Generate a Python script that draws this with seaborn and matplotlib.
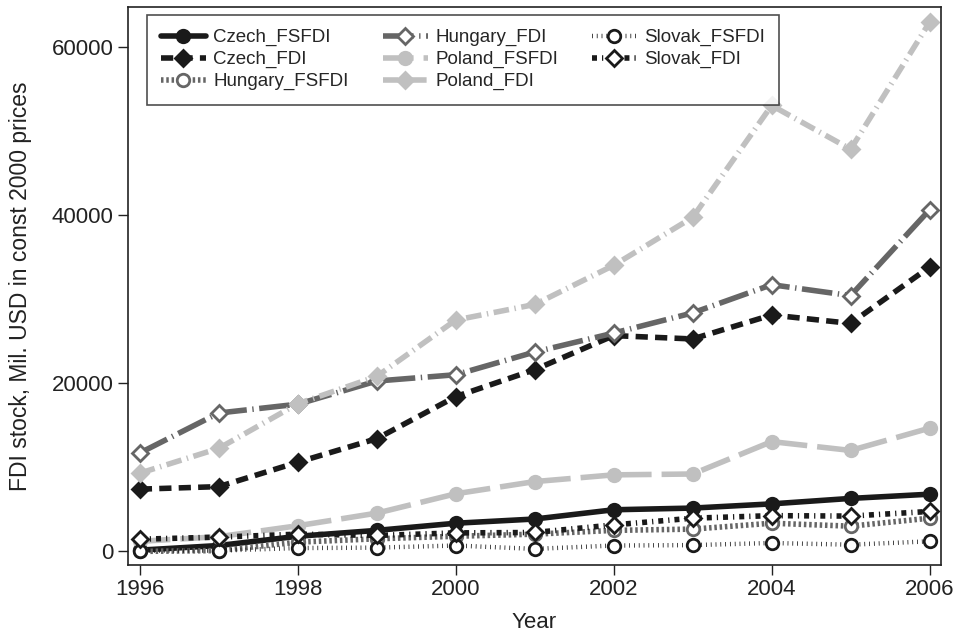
import pandas as pd
import numpy as np
import seaborn as sns
import matplotlib.pyplot as plt

years = [1996, 1997, 1998, 1999, 2000, 2001, 2002, 2003, 2004, 2005, 2006]

czech_fsfdi = [150, 700, 1800, 2500, 3350, 3850, 4950, 5150, 5650, 6300, 6800]
czech_fdi = [7400, 7700, 10600, 13400, 18400, 21600, 25650, 25250, 28100, 27100, 33800]
hungary_fsfdi = [0, 100, 1100, 1500, 1800, 2050, 2500, 2650, 3350, 3000, 3950]
hungary_fdi = [11700, 16450, 17500, 20250, 21000, 23700, 25950, 28350, 31700, 30400, 40600]
poland_fsfdi = [1200, 1750, 3050, 4550, 6850, 8300, 9100, 9200, 13050, 12000, 14650]
poland_fdi = [9300, 12250, 17550, 20800, 27500, 29350, 34000, 39700, 53000, 47800, 62900]
slovak_fsfdi = [100, 100, 400, 450, 700, 300, 700, 750, 1000, 800, 1200]
slovak_fdi = [1450, 1700, 2050, 1900, 2200, 2250, 3150, 3950, 4250, 4200, 4750]

series = ["Czech_FSFDI", "Czech_FDI", "Hungary_FSFDI", "Hungary_FDI",
          "Poland_FSFDI", "Poland_FDI", "Slovak_FSFDI", "Slovak_FDI"]
values = [czech_fsfdi, czech_fdi, hungary_fsfdi, hungary_fdi,
          poland_fsfdi, poland_fdi, slovak_fsfdi, slovak_fdi]

df = pd.DataFrame({
    "Year": years * len(series),
    "value": sum(values, []),
    "series": np.repeat(series, len(years)),
})

black = "#1a1a1a"
dgrey = "#666666"
lgrey = "#c0c0c0"

# color, dash pattern, linewidth, marker, face color
styles = {
    "Czech_FSFDI": (black, "-", 4.0, "o", black),
    "Czech_FDI": (black, (0, (2.2, 1.3)), 4.0, "D", black),
    "Hungary_FSFDI": (dgrey, (0, (0.45, 0.5)), 4.0, "o", "white"),
    "Hungary_FDI": (dgrey, (0, (5.5, 1.0, 0.25, 1.0)), 4.0, "D", "white"),
    "Poland_FSFDI": (lgrey, (0, (5.5, 1.8)), 4.0, "o", lgrey),
    "Poland_FDI": (lgrey, (0, (2.8, 1.0, 0.25, 1.0)), 4.0, "D", lgrey),
    "Slovak_FSFDI": (black, (0, (0.18, 0.9)), 3.2, "o", "white"),
    "Slovak_FDI": (black, (0, (0.9, 0.9, 0.22, 0.9)), 4.0, "D", "white"),
}

sns.set_theme(style="ticks")
plt.rcParams["font.family"] = ["Liberation Sans", "DejaVu Sans"]

fig = plt.figure(figsize=(9.55, 6.39), dpi=100)
ax = fig.add_axes([0.134, 0.116, 0.851, 0.873])

for name in series:
    color, ls, lw, mk, fc = styles[name]
    sub = df[df["series"] == name]
    sns.lineplot(data=sub, x="Year", y="value", ax=ax, color=color, linestyle=ls,
                 linewidth=lw, marker=mk, markersize=9 if mk == "o" else 8.5,
                 markerfacecolor=fc, markeredgecolor=color, markeredgewidth=2,
                 label=name, dash_capstyle="butt")

ax.set_xlim(1995.85, 2006.14)
ax.set_ylim(-1600, 64700)
ax.set_xticks([1996, 1998, 2000, 2002, 2004, 2006])
ax.set_yticks([0, 20000, 40000, 60000])
ax.tick_params(axis="both", labelsize=16, length=7, width=1, color="#222222", labelcolor="#222222")
for s in ax.spines.values():
    s.set_color("#222222")
    s.set_linewidth(1.2)
ax.set_xlabel("Year", fontsize=16, color="#222222", labelpad=8)
ax.set_ylabel("FDI stock, Mil. USD in const 2000 prices", fontsize=16.5, color="#222222", labelpad=14)

leg = ax.legend(ncol=3, loc="upper left", bbox_to_anchor=(0.023, 0.986), fontsize=13.5,
                frameon=True, fancybox=False, edgecolor="#222222", handlelength=2.4,
                columnspacing=1.8, labelspacing=0.25, borderpad=0.76, handletextpad=0.4,
                borderaxespad=0)
leg.get_frame().set_linewidth(1.2)

fig.savefig("out.png", dpi=100)
